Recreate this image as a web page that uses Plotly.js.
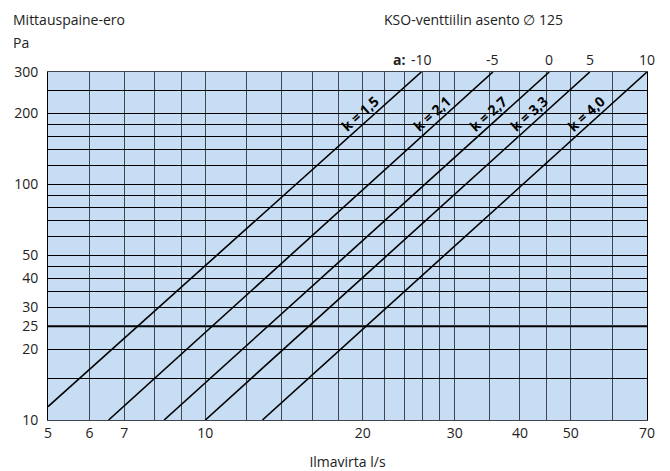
<!DOCTYPE html>
<html>
<head>
<meta charset="utf-8">
<script src="https://cdn.plot.ly/plotly-3.0.1.min.js"></script>
<style>html,body{margin:0;padding:0;background:#fff;}#chart{width:670px;height:471px;}</style>
</head>
<body>
<div id="chart"></div>
<script>
// ---- data ----
const xGridVals = [5, 6, 7, 8, 9, 10, 12, 14, 16, 18, 20, 22, 24, 26, 28, 30, 35, 40, 45, 50, 60, 70];
const xTickLabelVals = [5, 6, 7, 10, 20, 30, 40, 50, 70];
const yGridVals = [10, 15, 20, 25, 30, 35, 40, 45, 50, 60, 70, 80, 90, 100, 120, 140, 160, 180, 200, 250, 300];
const yTickLabelVals = [10, 20, 25, 30, 40, 50, 100, 200, 300];
const emphasisPressure = [25];

const kLabels = ['k = 1,5', 'k = 2,1', 'k = 2,7', 'k = 3,3', 'k = 4,0'];
const flowStart = [5, 6.53, 8.34, 10.0, 12.86];
const pressureStart = [11.4, 10, 10, 10, 10];
const flowEnd = [25.9, 35.5, 45.5, 54.4, 70];
const pressureEnd = [300, 300, 300, 300, 300];
const positionLabels = ['-10', '-5', '0', '5', '10'];

// ---- build ----
const FONT = 'Open Sans, Liberation Sans, sans-serif';
const TXT = '#222';
const W = 670, H = 471;
const M = {l: 48, r: 23, t: 72, b: 51};
const PW = W - M.l - M.r, PH = H - M.t - M.b;
const px2x = px => (px - M.l) / PW;
const py2y = py => 1 - (py - M.t) / PH;

const traces = kLabels.map((k, i) => ({
  type: 'scatter', mode: 'lines', name: k,
  x: [flowStart[i], flowEnd[i]],
  y: [pressureStart[i], pressureEnd[i]],
  line: {color: '#000', width: 1.6},
  hoverinfo: 'skip', showlegend: false
}));

function lineXAt(i, p) {
  const lx0 = Math.log10(flowStart[i]), lx1 = Math.log10(flowEnd[i]);
  const ly0 = Math.log10(pressureStart[i]), ly1 = Math.log10(pressureEnd[i]);
  const t = (Math.log10(p) - ly0) / (ly1 - ly0);
  return Math.pow(10, lx0 + t * (lx1 - lx0));
}

const annotations = [];
kLabels.forEach((k, i) => {
  annotations.push({
    x: Math.log10(lineXAt(i, 200)), y: Math.log10(200), xref: 'x', yref: 'y',
    text: '<b>' + k + '</b>', showarrow: false, textangle: -42,
    xshift: -15, font: {family: FONT, size: 14, color: '#000'}
  });
  annotations.push({
    x: Math.log10(flowEnd[i]), y: 1, xref: 'x', yref: 'paper',
    text: positionLabels[i], showarrow: false, yanchor: 'bottom', yshift: 1,
    font: {family: FONT, size: 14, color: TXT}
  });
});
annotations.push({
  x: Math.log10(flowEnd[0]), y: 1, xref: 'x', yref: 'paper', xanchor: 'right',
  text: '<b>a:</b>', showarrow: false, yanchor: 'bottom', yshift: 1, xshift: -14,
  font: {family: FONT, size: 14, color: TXT}
});
annotations.push({
  x: px2x(11), y: py2y(8), xref: 'paper', yref: 'paper', xanchor: 'left', yanchor: 'top',
  align: 'left', text: 'Mittauspaine-ero', showarrow: false,
  font: {family: FONT, size: 14, color: TXT}
});
annotations.push({
  x: px2x(11), y: py2y(31), xref: 'paper', yref: 'paper', xanchor: 'left', yanchor: 'top',
  align: 'left', text: 'Pa', showarrow: false,
  font: {family: FONT, size: 14, color: TXT}
});
annotations.push({
  x: px2x(382), y: py2y(8), xref: 'paper', yref: 'paper', xanchor: 'left', yanchor: 'top',
  text: 'KSO-venttiilin asento ∅ 125', showarrow: false,
  font: {family: FONT, size: 14, color: TXT}
});

const shapes = emphasisPressure.map(v => ({
  type: 'line', xref: 'paper', yref: 'y', x0: 0, x1: 1, y0: v, y1: v,
  line: {color: '#000', width: 2.2}, layer: 'between'
}));

const layout = {
  width: W, height: H,
  margin: {l: M.l, r: M.r, t: M.t, b: M.b, pad: 0},
  paper_bgcolor: '#fff', plot_bgcolor: '#c6ddf3',
  font: {family: FONT, size: 14, color: TXT},
  showlegend: false,
  xaxis: {
    type: 'log', range: [Math.log10(5), Math.log10(70)],
    tickmode: 'array', tickvals: xGridVals,
    ticktext: xGridVals.map(v => xTickLabelVals.includes(v) ? String(v) : ''),
    showgrid: true, gridcolor: '#3f4650', gridwidth: 1,
    showline: true, linecolor: '#3f4650', linewidth: 1, mirror: true,
    ticks: '', zeroline: false, tickfont: {family: FONT, size: 14, color: TXT},
    title: {text: 'Ilmavirta l/s', standoff: 17, font: {family: FONT, size: 14, color: TXT}}
  },
  yaxis: {
    type: 'log', range: [1, Math.log10(300)],
    tickmode: 'array', tickvals: yGridVals,
    ticktext: yGridVals.map(v => yTickLabelVals.includes(v) ? String(v) : ''),
    showgrid: true, gridcolor: '#000', gridwidth: 1,
    showline: true, linecolor: '#000', linewidth: 1, mirror: true,
    ticks: '', zeroline: false, ticklabelstandoff: 6,
    tickfont: {family: FONT, size: 14, color: TXT}
  },
  annotations: annotations,
  shapes: shapes
};

Plotly.newPlot('chart', traces, layout, {displayModeBar: false, staticPlot: true});
</script>
</body>
</html>
